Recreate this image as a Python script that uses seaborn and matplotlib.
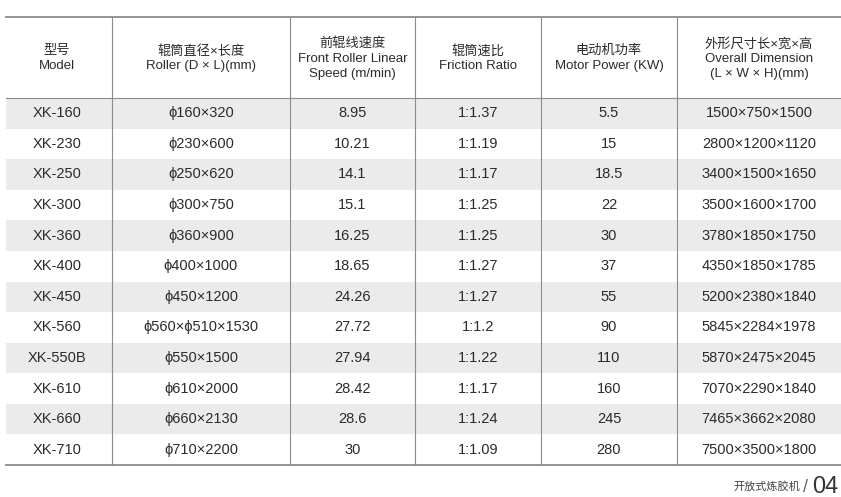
import numpy as np
import matplotlib
matplotlib.use("Agg")
import matplotlib.pyplot as plt
import seaborn as sns

# Police latine proche d'Helvetica, repli CJK pour le chinois
plt.rcParams["font.family"] = ["Liberation Sans", "Noto Sans CJK SC"]

# Données du tableau
headers = [
    "型号\nModel",
    "辊筒直径×长度\nRoller (D × L)(mm)",
    "前辊线速度\nFront Roller Linear\nSpeed (m/min)",
    "辊筒速比\nFriction Ratio",
    "电动机功率\nMotor Power (KW)",
    "外形尺寸长×宽×高\nOverall Dimension\n(L × W × H)(mm)",
]
models = ["XK-160", "XK-230", "XK-250", "XK-300", "XK-360", "XK-400",
          "XK-450", "XK-560", "XK-550B", "XK-610", "XK-660", "XK-710"]
rollers = ["ϕ160×320", "ϕ230×600", "ϕ250×620", "ϕ300×750", "ϕ360×900", "ϕ400×1000",
           "ϕ450×1200", "ϕ560×ϕ510×1530", "ϕ550×1500", "ϕ610×2000", "ϕ660×2130", "ϕ710×2200"]
speeds = ["8.95", "10.21", "14.1", "15.1", "16.25", "18.65",
          "24.26", "27.72", "27.94", "28.42", "28.6", "30"]
ratios = ["1:1.37", "1:1.19", "1:1.17", "1:1.25", "1:1.25", "1:1.27",
          "1:1.27", "1:1.2", "1:1.22", "1:1.17", "1:1.24", "1:1.09"]
powers = ["5.5", "15", "18.5", "22", "30", "37", "55", "90", "110", "160", "245", "280"]
dims = ["1500×750×1500", "2800×1200×1120", "3400×1500×1650", "3500×1600×1700",
        "3780×1850×1750", "4350×1850×1785", "5200×2380×1840", "5845×2284×1978",
        "5870×2475×2045", "7070×2290×1840", "7465×3662×2080", "7500×3500×1800"]

W, H = 841, 497
fig = plt.figure(figsize=(W / 100, H / 100), dpi=100)

# Fond des lignes alternées (heatmap)
top, head_bot, bot, left = 17, 98, 465, 6
n = len(models)
stripes = np.array([[1 - (i % 2)] for i in range(n)])
axh = fig.add_axes([left / W, 1 - bot / H, (W - left) / W, (bot - head_bot) / H])
sns.heatmap(stripes, ax=axh, cmap=["#ffffff", "#ebebeb"], cbar=False,
            xticklabels=False, yticklabels=False, vmin=0, vmax=1)
axh.axis("off")

ax = fig.add_axes([0, 0, 1, 1])
ax.set_xlim(0, W)
ax.set_ylim(H, 0)
ax.axis("off")

col_edges = [left, 112, 290, 415, 541, 677, W]
centers = [(a + b) / 2 for a, b in zip(col_edges[:-1], col_edges[1:])]
centers[0] = 57
txt = "#2b2b2b"
line = "#8c8c8c"

ax.plot([left, W], [top, top], color=line, lw=1.3)
ax.plot([left, W], [head_bot, head_bot], color=line, lw=0.8)
ax.plot([left, W], [bot, bot], color=line, lw=1.3)
for x in col_edges[1:-1]:
    ax.plot([x, x], [top, bot], color=line, lw=0.8)

for c, h in zip(centers, headers):
    ax.text(c, (top + head_bot) / 2 + 1, h, ha="center", va="center",
            fontsize=9.5, color=txt, linespacing=1.3)

row_h = (bot - head_bot) / n
cols = [models, rollers, speeds, ratios, powers, dims]
for j, values in enumerate(cols):
    for i, v in enumerate(values):
        y = head_bot + row_h * (i + 0.5)
        ax.text(centers[j], y, v, ha="center", va="center", fontsize=10.5, color=txt)

ax.text(800, 486, "开放式炼胶机", ha="right", va="center", fontsize=8, color="#444444")
ax.text(806, 488, "/", ha="center", va="center", fontsize=13, color="#666666")
ax.text(812, 487, "04", ha="left", va="center", fontsize=17, color="#333333")

fig.savefig("out.png", dpi=100)
